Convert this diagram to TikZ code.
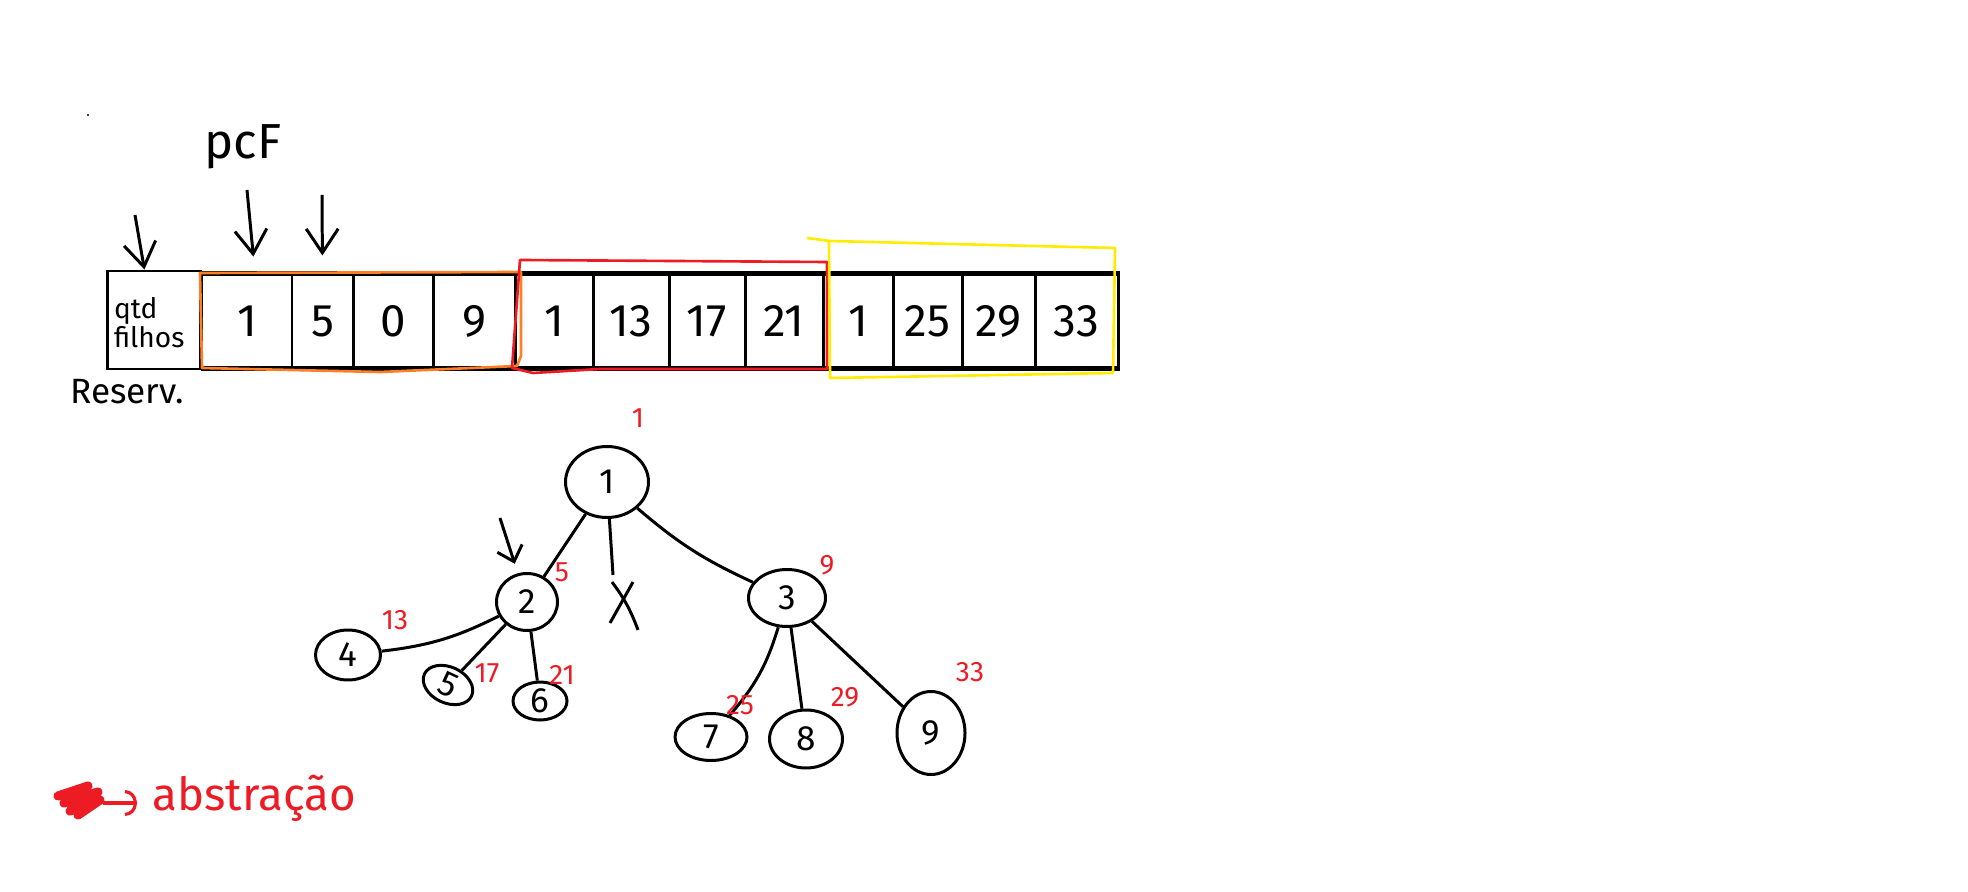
\documentclass[tikz,border=0pt]{standalone}
\usepackage{fontspec}
\setmainfont{Fira Sans}
\usepackage{tikz}
\usetikzlibrary{positioning,arrows.meta,calc,shapes.geometric}
\definecolor{mkorange}{RGB}{255,127,39}
\definecolor{mkred}{RGB}{237,28,36}
\definecolor{mkyellow}{RGB}{255,236,0}
\tikzset{
  cell/.style={draw,line width=0.85pt,minimum height=9.2mm,inner sep=0pt,font=\fontsize{13}{15}\selectfont},
  nd/.style={draw,ellipse,line width=0.85pt,inner sep=0pt,font=\fontsize{10}{12}\selectfont},
  idx/.style={text=mkred,font=\fontsize{8}{10}\selectfont},
  ed/.style={line width=0.85pt},
  ar/.style={-{Straight Barb[length=2.4mm,width=3.2mm]},line width=0.85pt},
  grp/.style={line width=0.75pt,line join=round},
}

\begin{document}
\begin{tikzpicture}[x=0.1mm,y=-0.1mm]
  \useasboundingbox (0,0) rectangle (1968,892);
  \fill (88,115) circle (1.2);
  % vetor
  \node[cell,minimum width=9.3mm,minimum height=9.8mm,text width=8mm,align=left,text depth=2.5mm,
        font=\fontsize{8}{8.5}\selectfont] (qtd) at (154,320) {qtd\\filhos};
  \foreach \nm/\xa/\xb/\val in {c1/202/292/1,c2/292/353/5,c3/353/433/0,c4/433/515/9,
                                c5/515/593/1,c6/593/669/13,c7/669/745/17,c8/745/823/21,
                                c9/823/893/1,c10/893/962/25,c11/962/1035/29,c12/1035/1118/33}
    \node[cell,minimum width={(\xb-\xa)*0.1mm}] (\nm) at ({(\xa+\xb)/2},321) {\val};
  \draw[line width=1.4pt] (c1.north west) -- (c12.north east);
  \draw[line width=1.4pt] (c1.south west) -- (c12.south east);
  \draw[grp,mkorange] (200,273) -- (521,272) -- (521,356) -- (517,366) -- (380,372) -- (202,368) -- cycle;
  \draw[grp,mkred] (520,260) -- (827,262) -- (827,369) -- (600,369) -- (533,373) -- (512,368) -- cycle;
  \draw[grp,mkyellow] (807,238) -- (830,241) -- (1115,248) -- (1113,373) -- (830,378) -- (829,241);
  \node[font=\fontsize{14}{16}\selectfont] (pcf) at (243,147) {pcF};
  \node[font=\fontsize{10}{12}\selectfont] (res) at (127,392) {Reserv.};
  \coordinate (aq) at (135,215);
  \coordinate (a1) at (247,190);
  \coordinate (a2) at (322,195);
  \draw[ar] (aq) -- ($(qtd.north west)!0.4!(qtd.north east)$);
  \draw[ar,shorten >=1.7mm] (a1) -- ($(c1.north)+(8,0)$);
  \draw[ar,shorten >=1.8mm] (a2) -- (c2.north);
  % arvore
  \node[nd,minimum width=8.3mm,minimum height=7.1mm] (n1) at (607,482) {1};
  \node[nd,minimum width=6.1mm,minimum height=5.7mm] (n2) at (527,602) {2};
  \node[nd,minimum width=7.7mm,minimum height=5.7mm] (n3) at (787,598) {3};
  \node[nd,minimum width=6.5mm,minimum height=5mm] (n4) at (348,655) {4};
  \node[nd,minimum width=5.2mm,minimum height=3.6mm,rotate=-25] (n5) at (448,685) {5};
  \node[nd,minimum width=5.4mm,minimum height=3.8mm] (n6) at (540,701) {6};
  \node[nd,minimum width=7.2mm,minimum height=4.7mm] (n7) at (711,737) {7};
  \node[nd,minimum width=7.3mm,minimum height=5.8mm] (n8) at (806,739) {8};
  \node[nd,minimum width=6.8mm,minimum height=8.3mm] (n9) at (931,733) {9};
  \coordinate (nilx) at (613,575);
  \draw[ed] (n1) -- (n2);
  \draw[ed] (n1) to[bend right=8] (n3);
  \draw[ed] (n1) -- (nilx);
  \draw[ed] ($(nilx)+(-1,7)$) to[bend left=8] ($(nilx)+(25,55)$);
  \draw[ed] ($(nilx)+(20,7)$) -- ($(nilx)+(-3,48)$);
  \draw[ed] (n2) to[bend left=10] (n4);
  \draw[ed] (n2) -- (n5);
  \draw[ed] (n2) -- (n6);
  \draw[ed] (n3) to[bend left=12] (n7);
  \draw[ed] (n3) -- (n8);
  \draw[ed] (n3) -- (n9);
  \coordinate (p2) at (500,518);
  \draw[ed,-{Straight Barb[length=1.4mm,width=2.6mm]},shorten >=1mm] (p2) -- (n2);
  \node[idx] (i1) at (638,418) {1};
  \node[idx] (i2) at (562,572) {5};
  \node[idx] (i3) at (827,565) {9};
  \node[idx] (i4) at (395,620) {13};
  \node[idx] (i5) at (487,673) {17};
  \node[idx] (i6) at (562,675) {21};
  \node[idx] (i7) at (740,705) {25};
  \node[idx] (i8) at (845,697) {29};
  \node[idx] (i9) at (970,672) {33};
  % legenda
  \draw[mkred,line width=2.6pt,line join=round,line cap=round]
    (58,796) -- (88,786) -- (64,803) -- (98,792) -- (70,811) -- (100,800) -- (78,815);
  \coordinate (sc) at (103,803);
  \node[anchor=west,text=mkred,font=\fontsize{13}{15}\selectfont] (abs) at (140,798) {abstração};
  \draw[mkred,line width=0.9pt,-{Arc Barb[length=1.2mm,width=2.6mm]},shorten >=0.3mm] (sc) -- (sc -| abs.west);
\end{tikzpicture}
\end{document}
